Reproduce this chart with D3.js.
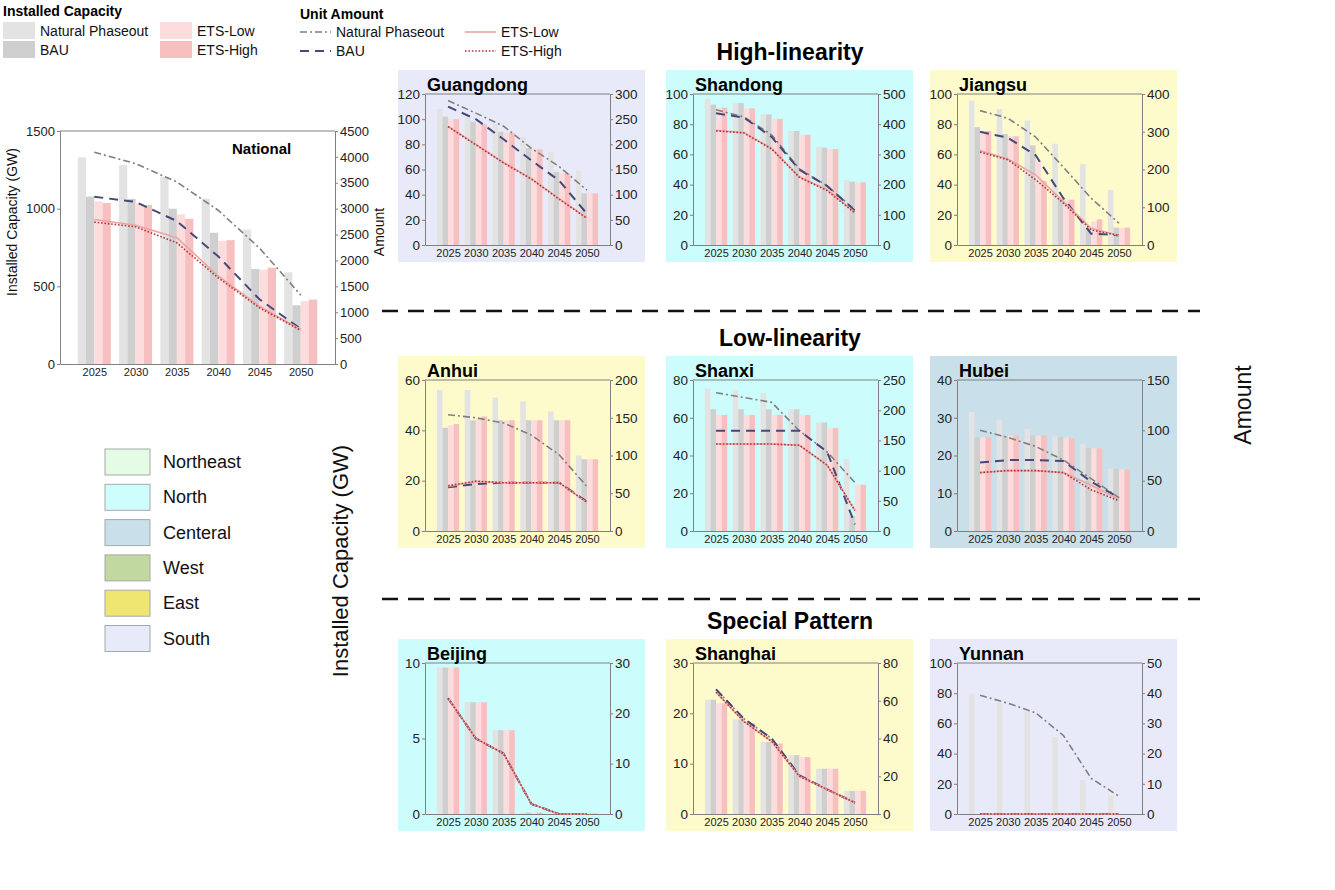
<!DOCTYPE html>
<html>
<head>
<meta charset="utf-8">
<script src="https://cdn.jsdelivr.net/npm/d3@7"></script>
<style>
  body { margin: 0; background: #fff; }
  svg { font-family: "Liberation Sans", Arial, sans-serif; }
</style>
</head>
<body>
<svg id="chart" width="1335" height="890"></svg>
<script>
const years = [2025, 2030, 2035, 2040, 2045, 2050];
const scenarios = ["Natural Phaseout", "BAU", "ETS-Low", "ETS-High"];

// installed capacity (GW) per scenario: NP, BAU, ETS-Low, ETS-High
const nationalCap = [
  [1330, 1280, 1205, 1065, 865, 590],
  [1078, 1063, 1000, 845, 612, 378],
  [1047, 1033, 963, 793, 607, 405],
  [1037, 1023, 935, 797, 620, 415],
];
const nationalAmt = [
  [4090, 3870, 3515, 2970, 2240, 1330],
  [3230, 3130, 2760, 2080, 1250, 680],
  [2790, 2680, 2440, 1700, 1115, 665],
  [2740, 2650, 2340, 1665, 1085, 650],
];

const guangdongCap = [
  [108, 101, 96, 86, 74, 59],
  [102, 98, 90, 77, 58, 41],
  [100, 96, 89, 76, 57, 41],
  [100, 96, 89, 76, 57, 41],
];
const guangdongAmt = [
  [287, 262, 236, 192, 156, 109],
  [275, 250, 210, 168, 128, 62],
  [236, 200, 164, 132, 92, 54],
  [235, 199, 163, 131, 91, 53],
];

const shandongCap = [
  [97, 94, 86.5, 75.5, 65, 43],
  [93, 94, 86.5, 75.5, 64.5, 42],
  [91, 90.5, 83.5, 73, 63.5, 41.5],
  [91, 90.5, 83.5, 73, 63.5, 41.5],
];
const shandongAmt = [
  [448, 424, 365, 252, 196, 116],
  [436, 422, 358, 249, 195, 113],
  [380, 372, 320, 226, 183, 108],
  [378, 371, 318, 224, 180, 106],
];

const jiangsuCap = [
  [95.5, 90, 82.5, 67, 53.5, 36.5],
  [78, 73.5, 66, 31, 11.5, 11.5],
  [75.5, 72, 56, 30, 15.5, 11.5],
  [75.5, 72, 42.5, 30, 17, 11.5],
];
const jiangsuAmt = [
  [356, 336, 286, 206, 124, 58],
  [300, 284, 238, 124, 30, 26],
  [250, 228, 186, 115, 44, 25],
  [246, 226, 173, 111, 40, 25],
];

const anhuiCap = [
  [56, 56, 53, 51.5, 47.5, 30],
  [41, 44, 44, 44, 44, 28.5],
  [42, 44.5, 44, 44, 44, 28.5],
  [42.5, 45.5, 44, 44, 44, 28.5],
];
const anhuiAmt = [
  [154, 150, 143, 127, 101, 59],
  [58, 62, 64, 64, 64, 39],
  [59, 65.5, 64, 64, 64, 38],
  [60, 66, 64, 64, 64, 38],
];

const shanxiCap = [
  [75.5, 74.5, 73, 64.5, 57.5, 38],
  [64.5, 64.5, 64.5, 64.5, 57.5, 8],
  [61.5, 61.5, 61.5, 61.5, 54.5, 24.5],
  [61.5, 61.5, 61.5, 61.5, 54.5, 24.5],
];
const shanxiAmt = [
  [229, 221, 213, 166, 131, 80],
  [166, 166, 166, 166, 131, 11],
  [144, 144, 144, 142, 109, 34],
  [144, 144, 144, 142, 109, 34],
];

const hubeiCap = [
  [31.5, 29.5, 27, 25, 23, 16.5],
  [24.8, 25.3, 25.3, 25, 22, 16.5],
  [24.8, 25.3, 25.3, 24.7, 21.9, 16.3],
  [24.8, 25.3, 25.3, 24.6, 21.9, 16.3],
];
const hubeiAmt = [
  [100, 93, 84, 70.5, 52, 33],
  [68, 70.5, 70.5, 69.5, 49, 33],
  [58, 60, 60, 58, 45.5, 31.5],
  [58, 60, 60, 58, 41, 30],
];

const beijingCap = [
  [9.7, 7.4, 5.55, 0.1, 0.05, 0.05],
  [9.7, 7.4, 5.55, 0.1, 0.05, 0.05],
  [9.7, 7.4, 5.55, 0.1, 0.05, 0.05],
  [9.7, 7.4, 5.55, 0.1, 0.05, 0.05],
];
const beijingAmt = [
  [23, 15, 12, 2, 0, 0],
  [23, 15, 12, 2, 0, 0],
  [23, 15, 12, 2, 0, 0],
  [23, 15, 12, 2, 0, 0],
];

const shanghaiCap = [
  [22.7, 18.8, 14.3, 11.7, 9, 4.6],
  [22.7, 18.8, 14.3, 11.7, 9, 4.6],
  [22, 18, 14, 11.3, 9, 4.6],
  [22, 18, 14, 11.3, 9, 4.6],
];
const shanghaiAmt = [
  [66, 50.5, 40, 20.5, 13, 6],
  [66, 50.5, 40, 20.5, 13, 6],
  [64.5, 49, 38.5, 20, 13, 6],
  [64.5, 49, 38.5, 20, 13, 6],
];

const yunnanCap = [
  [79.5, 73.5, 68, 51, 22.5, 12.2],
  [0, 0, 0, 0, 0, 0],
  [0, 0, 0, 0, 0, 0],
  [0, 0, 0, 0, 0, 0],
];
const yunnanAmt = [
  [39.3, 36.7, 33.5, 26, 11.8, 5.9],
  [0, 0, 0, 0, 0, 0],
  [0, 0, 0, 0, 0, 0],
  [0, 0, 0, 0, 0, 0],
];

const regions = ["Northeast", "North", "Centeral", "West", "East", "South"];
const regionColors = ["#e4fce3", "#cdfdfd", "#c9dfea", "#c1d9a0", "#efe672", "#e7eaf9"];

// styles
const barColor = d3.scaleOrdinal().domain(scenarios)
  .range(["#e3e3e3", "#cfcfcf", "#fcdcdc", "#f7bfbf"]);
const lineStyle = {
  "Natural Phaseout": { stroke: "#808080", dash: "7,3,2,3", width: 1.6 },
  "BAU": { stroke: "#454978", dash: "9,6", width: 2 },
  "ETS-Low": { stroke: "#eba4a4", dash: null, width: 1.6 },
  "ETS-High": { stroke: "#b5373b", dash: "1.6,1.8", width: 1.6 },
};
const panelBg = { South: "#e8eaf9", North: "#ccfcfc", East: "#fdfbcc", Central: "#c9dfea" };

const svg = d3.select("#chart");
const fmt = d3.format("d");

function drawPanel(p) {
  const g = svg.append("g").attr("transform", `translate(${p.x},${p.y})`);
  const w = p.w, h = p.h;
  if (p.bg) {
    g.append("rect")
      .attr("x", -27).attr("y", -24)
      .attr("width", w + 62).attr("height", h + 41)
      .attr("fill", p.bg);
  }
  const x = d3.scalePoint().domain(years).range([0, w]).padding(0.83);
  const barW = x.step() * 0.2;
  const yL = d3.scaleLinear().domain(p.capDomain).range([h, 0]);
  const yR = d3.scaleLinear().domain(p.amtDomain).range([h, 0]);

  // bars
  scenarios.forEach((s, i) => {
    g.append("g").selectAll("rect")
      .data(p.cap[i])
      .join("rect")
      .attr("x", (d, j) => x(years[j]) - 2 * barW + i * barW)
      .attr("width", barW)
      .attr("y", (d) => yL(d))
      .attr("height", (d) => h - yL(d))
      .attr("fill", barColor(s));
  });

  // frame & axes
  const axisColor = "#808080";
  g.append("line").attr("x1", 0).attr("x2", w).attr("y1", 0).attr("y2", 0)
    .attr("stroke", axisColor);
  const gl = g.append("g")
    .call(d3.axisLeft(yL).tickValues(p.capTicks).tickFormat(fmt)
      .tickSize(3).tickPadding(2).tickSizeOuter(0));
  const gr = g.append("g").attr("transform", `translate(${w},0)`)
    .call(d3.axisRight(yR).tickValues(p.amtTicks).tickFormat(fmt)
      .tickSize(3).tickPadding(2).tickSizeOuter(0));
  const gb = g.append("g").attr("transform", `translate(0,${h})`)
    .call(d3.axisBottom(x).tickSize(0).tickPadding(4));
  [gl, gr].forEach((a) => a.selectAll("text").attr("font-size", p.tickSize).attr("fill", "#222"));
  gb.selectAll("text").attr("font-size", 11).attr("fill", "#222");
  [gl, gr, gb].forEach((a) => {
    a.attr("font-family", null);
    a.select(".domain").attr("stroke", axisColor);
    a.selectAll(".tick line").attr("stroke", axisColor);
  });

  // lines
  const line = d3.line()
    .x((d, j) => x(years[j]))
    .y((d) => yR(d));
  scenarios.forEach((s, i) => {
    const st = lineStyle[s];
    g.append("path")
      .attr("d", line(p.amt[i]))
      .attr("fill", "none")
      .attr("stroke", st.stroke)
      .attr("stroke-width", st.width)
      .attr("stroke-dasharray", st.dash);
  });

  if (p.title) {
    g.append("text")
      .attr("x", p.titleX).attr("y", p.titleY)
      .attr("font-size", p.titleSize).attr("font-weight", "bold")
      .attr("fill", "#000")
      .text(p.title);
  }
  return g;
}

// national chart
drawPanel({
  x: 60, y: 131, w: 275, h: 233,
  capDomain: [0, 1500], capTicks: [0, 500, 1000, 1500],
  amtDomain: [0, 4500], amtTicks: d3.range(0, 4501, 500),
  cap: nationalCap, amt: nationalAmt,
  tickSize: 13, title: "National", titleX: 172, titleY: 23, titleSize: 15,
});
svg.append("text")
  .attr("transform", "translate(17,222) rotate(-90)")
  .attr("text-anchor", "middle").attr("font-size", 14).attr("fill", "#111")
  .text("Installed Capacity (GW)");
svg.append("text")
  .attr("transform", "translate(384,232) rotate(-90)")
  .attr("text-anchor", "middle").attr("font-size", 14).attr("fill", "#111")
  .text("Amount");

// provincial panels
const colX = [425, 693, 957];
const rowY = [94, 380, 663];
const panelW = 185, panelH = 151;
const provinces = [
  { title: "Guangdong", col: 0, row: 0, bg: panelBg.South, cap: guangdongCap, amt: guangdongAmt,
    capDomain: [0, 120], capTicks: d3.range(0, 121, 20), amtDomain: [0, 300], amtTicks: d3.range(0, 301, 50) },
  { title: "Shandong", col: 1, row: 0, bg: panelBg.North, cap: shandongCap, amt: shandongAmt,
    capDomain: [0, 100], capTicks: d3.range(0, 101, 20), amtDomain: [0, 500], amtTicks: d3.range(0, 501, 100) },
  { title: "Jiangsu", col: 2, row: 0, bg: panelBg.East, cap: jiangsuCap, amt: jiangsuAmt,
    capDomain: [0, 100], capTicks: d3.range(0, 101, 20), amtDomain: [0, 400], amtTicks: d3.range(0, 401, 100) },
  { title: "Anhui", col: 0, row: 1, bg: panelBg.East, cap: anhuiCap, amt: anhuiAmt,
    capDomain: [0, 60], capTicks: [0, 20, 40, 60], amtDomain: [0, 200], amtTicks: d3.range(0, 201, 50) },
  { title: "Shanxi", col: 1, row: 1, bg: panelBg.North, cap: shanxiCap, amt: shanxiAmt,
    capDomain: [0, 80], capTicks: d3.range(0, 81, 20), amtDomain: [0, 250], amtTicks: d3.range(0, 251, 50) },
  { title: "Hubei", col: 2, row: 1, bg: panelBg.Central, cap: hubeiCap, amt: hubeiAmt,
    capDomain: [0, 40], capTicks: d3.range(0, 41, 10), amtDomain: [0, 150], amtTicks: d3.range(0, 151, 50) },
  { title: "Beijing", col: 0, row: 2, bg: panelBg.North, cap: beijingCap, amt: beijingAmt,
    capDomain: [0, 10], capTicks: [0, 5, 10], amtDomain: [0, 30], amtTicks: d3.range(0, 31, 10) },
  { title: "Shanghai", col: 1, row: 2, bg: panelBg.East, cap: shanghaiCap, amt: shanghaiAmt,
    capDomain: [0, 30], capTicks: d3.range(0, 31, 10), amtDomain: [0, 80], amtTicks: d3.range(0, 81, 20) },
  { title: "Yunnan", col: 2, row: 2, bg: panelBg.South, cap: yunnanCap, amt: yunnanAmt,
    capDomain: [0, 100], capTicks: d3.range(0, 101, 20), amtDomain: [0, 50], amtTicks: d3.range(0, 51, 10) },
];
provinces.forEach((p) => {
  drawPanel(Object.assign({}, p, {
    x: colX[p.col], y: rowY[p.row], w: panelW, h: panelH,
    tickSize: 13.5, titleX: 2, titleY: -3, titleSize: 18,
  }));
});

// section titles and separators
const sections = [
  { text: "High-linearity", y: 60 },
  { text: "Low-linearity", y: 346 },
  { text: "Special Pattern", y: 629 },
];
svg.selectAll(".section").data(sections).join("text")
  .attr("class", "section")
  .attr("x", 790).attr("y", (d) => d.y)
  .attr("text-anchor", "middle").attr("font-size", 23).attr("font-weight", "bold")
  .text((d) => d.text);
svg.selectAll(".sep").data([311, 599]).join("line")
  .attr("class", "sep")
  .attr("x1", 382).attr("x2", 1200).attr("y1", (d) => d).attr("y2", (d) => d)
  .attr("stroke", "#111").attr("stroke-width", 2.5).attr("stroke-dasharray", "16,10");

svg.append("text")
  .attr("transform", "translate(348,561) rotate(-90)")
  .attr("text-anchor", "middle").attr("font-size", 22).attr("fill", "#111")
  .text("Installed Capacity (GW)");
svg.append("text")
  .attr("transform", "translate(1251,405) rotate(-90)")
  .attr("text-anchor", "middle").attr("font-size", 23).attr("fill", "#111")
  .text("Amount");

// top legend: installed capacity
const lg1 = svg.append("g");
lg1.append("text").attr("x", 3).attr("y", 16).attr("font-size", 14).attr("font-weight", "bold")
  .text("Installed Capacity");
const capLegendPos = [
  { x: 3, y: 22 }, { x: 3, y: 41 }, { x: 160, y: 22 }, { x: 160, y: 41 },
];
scenarios.forEach((s, i) => {
  const pos = capLegendPos[i];
  lg1.append("rect").attr("x", pos.x).attr("y", pos.y).attr("width", 32).attr("height", 17)
    .attr("fill", barColor(s));
  lg1.append("text").attr("x", pos.x + 37).attr("y", pos.y + 14).attr("font-size", 14)
    .attr("fill", "#111").text(s);
});

// top legend: unit amount
const lg2 = svg.append("g");
lg2.append("text").attr("x", 300).attr("y", 19).attr("font-size", 14).attr("font-weight", "bold")
  .text("Unit Amount");
const amtLegendPos = [
  { x: 300, y: 32 }, { x: 300, y: 51 }, { x: 465, y: 32 }, { x: 465, y: 51 },
];
scenarios.forEach((s, i) => {
  const pos = amtLegendPos[i];
  const st = lineStyle[s];
  lg2.append("line").attr("x1", pos.x).attr("x2", pos.x + 31).attr("y1", pos.y).attr("y2", pos.y)
    .attr("stroke", st.stroke).attr("stroke-width", st.width).attr("stroke-dasharray", st.dash);
  lg2.append("text").attr("x", pos.x + 36).attr("y", pos.y + 5).attr("font-size", 14)
    .attr("fill", "#111").text(s);
});

// region legend
const rl = svg.append("g").attr("transform", "translate(105,449)");
const ri = rl.selectAll("g").data(regions).join("g")
  .attr("transform", (d, i) => `translate(0,${i * 35.3})`);
ri.append("rect").attr("width", 45).attr("height", 26)
  .attr("fill", (d, i) => regionColors[i]).attr("stroke", "#a8a8a8").attr("stroke-width", 1);
ri.append("text").attr("x", 58).attr("y", 19).attr("font-size", 18).attr("fill", "#111")
  .text((d) => d);
</script>
</body>
</html>
